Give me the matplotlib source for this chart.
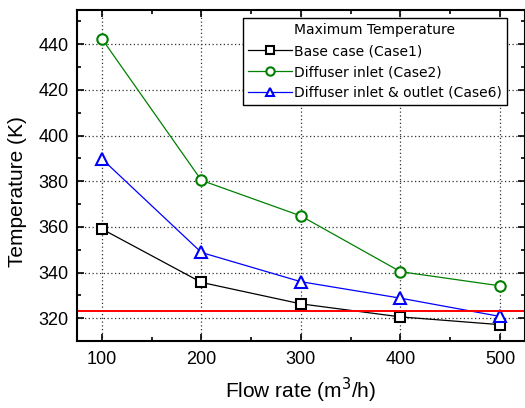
import matplotlib
matplotlib.use('Agg')
import matplotlib.pyplot as plt
from matplotlib.ticker import MultipleLocator

flow_rate = [100, 200, 300, 400, 500]
case1 = [359.1, 335.7, 326.3, 320.6, 317.2]
case2 = [442.4, 380.4, 364.8, 340.4, 334.2]
case6 = [389.8, 348.8, 336.0, 328.8, 320.8]
limite = 323.0

plt.rcParams['font.family'] = ['Liberation Sans', 'DejaVu Sans']

fig = plt.figure(figsize=(5.25, 4.08), dpi=100)
ax = fig.add_axes([0.1467, 0.164, 0.853, 0.8115])

ax.plot(flow_rate, case1, color='black', lw=0.9, marker='s', ms=6.5,
        mfc='white', mec='black', mew=1.5, label='Base case (Case1)')
ax.plot(flow_rate, case2, color='green', lw=0.9, marker='o', ms=7.5,
        mfc='white', mec='green', mew=1.5, label='Diffuser inlet (Case2)')
ax.plot(flow_rate, case6, color='blue', lw=0.9, marker='^', ms=9,
        mfc='white', mec='blue', mew=1.5, label='Diffuser inlet & outlet (Case6)')
ax.axhline(limite, color='red', lw=1.4)

ax.set_xlim(75, 525)
ax.set_ylim(310, 455)
ax.xaxis.set_major_locator(MultipleLocator(100))
ax.xaxis.set_minor_locator(MultipleLocator(50))
ax.yaxis.set_major_locator(MultipleLocator(20))
ax.yaxis.set_minor_locator(MultipleLocator(10))
ax.tick_params(which='both', direction='in', top=True, right=True,
               labelsize=13, width=1.2)
ax.tick_params(which='major', length=5)
ax.tick_params(which='minor', length=3)
ax.tick_params(axis='x', pad=7)
ax.tick_params(axis='y', pad=6)
for s in ax.spines.values():
    s.set_linewidth(1.5)

ax.grid(True, which='major', ls=(0, (1, 2)), color='#333333', lw=0.9)

ax.set_xlabel('Flow rate (m$^3$/h)', fontsize=15, labelpad=6)
ax.set_ylabel('Temperature (K)', fontsize=15)
ax.yaxis.set_label_coords(-0.112, 0.453)

leg = ax.legend(title='Maximum Temperature', loc='upper right',
                bbox_to_anchor=(0.96, 0.975), fancybox=False,
                framealpha=1, edgecolor='black', handlelength=3.2,
                handletextpad=0.15, borderpad=0.35, labelspacing=0.5,
                borderaxespad=0, prop={'family': 'DejaVu Sans', 'size': 10},
                title_fontproperties={'family': 'DejaVu Sans', 'size': 10})
leg.get_frame().set_linewidth(1.0)
for h in leg.legend_handles:
    h.set_markersize(6)

fig.savefig('out.png', dpi=100)
